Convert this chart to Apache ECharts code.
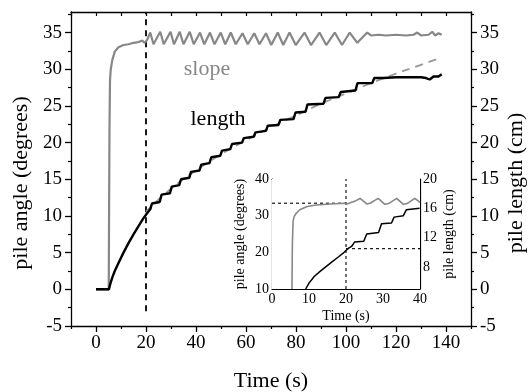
<!DOCTYPE html>
<html>
<head>
<meta charset="utf-8">
<script src="https://cdn.jsdelivr.net/npm/echarts@6/dist/echarts.min.js"></script>
<style>
  html, body { margin: 0; padding: 0; background: #fff; }
  #main { width: 528px; height: 392px; }
</style>
</head>
<body>
<div id="main"></div>
<script>
// main chart data: [time (s), value]
var slopeData = [
  [0, 0], [5.1, 0], [5.25, 12], [5.4, 22], [5.6, 28.5], [5.9, 30], [6.5, 31.2], [7.5, 32.4],
  [9, 33.0], [11, 33.3], [13, 33.4], [15, 33.6], [17, 33.7], [18.5, 33.9], [19.5, 33.6], [20.3, 33.9],
  [21.7, 35.0], [23.0, 33.4], [25.7, 35.1], [27.1, 33.4], [29.8, 35.1], [31.2, 33.4],
  [33.5, 35.1], [35.0, 33.4], [37.5, 35.1], [39.1, 33.4], [41.6, 35.0], [43.3, 33.4],
  [45.6, 35.0], [47.4, 33.4], [49.9, 35.0], [51.7, 33.4], [53.9, 35.0], [55.9, 33.4],
  [58.6, 34.9], [60.7, 33.4], [63.3, 34.9], [65.4, 33.4], [68.0, 34.9], [70.1, 33.3],
  [72.7, 35.0], [74.9, 33.3], [77.4, 35.0], [79.9, 33.3], [83.4, 35.0], [86.0, 33.3],
  [89.4, 35.0], [92.1, 33.3], [95.5, 35.0], [98.4, 33.3], [101.5, 35.0], [104.5, 33.6],
  [108.5, 35.0], [110, 34.6], [113, 34.7], [116, 34.6], [120, 34.7], [124, 34.6], [127, 34.7],
  [128.5, 35.0], [130, 34.6], [133, 34.7], [134.5, 35.1], [135.7, 34.6], [137, 34.9], [138.3, 34.7]
];
var lengthData = [
  [0, 0], [5.2, 0], [5.6, 0.6], [6.5, 1.6], [7.5, 2.5], [9, 3.6], [11, 5.0], [13, 6.3], [15, 7.5],
  [17, 8.6], [19, 9.7], [20.5, 10.4], [21.7, 10.9], [22.4, 11.7], [25.5, 11.9], [26.2, 12.9],
  [29.6, 13.1], [30.3, 14.0], [33.3, 14.2], [34.0, 15.0], [37.3, 15.2], [38.0, 16.0],
  [41.4, 16.2], [42.1, 17.0], [45.4, 17.2], [46.1, 18.0], [49.7, 18.2], [50.4, 18.9],
  [53.7, 19.1], [54.4, 19.8], [58.4, 20.0], [59.1, 20.6], [63.1, 20.8], [63.8, 21.4],
  [68.0, 21.6], [68.7, 22.3], [73.0, 22.4], [73.7, 23.1], [79.0, 23.2], [79.8, 24.1],
  [83.8, 24.2], [84.6, 25.2], [91.0, 25.3], [91.8, 26.1], [97.1, 26.2], [97.9, 26.9],
  [103.8, 27.1], [104.6, 28.1], [110.5, 28.1], [111.3, 28.8], [115, 28.8], [120, 28.9],
  [125, 28.9], [130, 28.9], [132, 28.8], [133.5, 28.6], [135, 29.0], [137, 29.0], [138.3, 29.3]
];
var fitData = [
  [20, 10.6], [30, 13.7], [40, 16.2], [50, 18.4], [60, 20.3], [70, 22.1], [80, 23.7],
  [90, 25.3], [100, 26.7], [110, 28.1], [120, 29.4], [130, 30.6], [138.3, 31.6]
];
var markerLine = [[20, -3], [20, 37.8]];

// inset data
var insetSlope = [
  [5.4, 10], [5.5, 22], [5.7, 28.5], [6.0, 29.8], [6.5, 30.6], [7.5, 31.6], [9.5, 32.5],
  [12, 32.9], [15.9, 33.2], [19.5, 33.4], [20.3, 33.2], [21.3, 33.6], [22.3, 33.9], [23.8, 34.7],
  [25.6, 33.2], [26.5, 33.4], [28.7, 34.7], [30.5, 33.1], [31.5, 33.3], [33.7, 34.7],
  [35.5, 33.1], [36.5, 33.3], [38.6, 34.7], [40, 33.6]
];
var insetLength = [
  [9.1, 5.0], [10, 5.8], [11.4, 6.7], [13, 7.4], [15.7, 8.5], [18, 9.4], [19.5, 10.0],
  [20.5, 10.5], [21.5, 10.8], [22.3, 11.4], [24.8, 11.5], [25.6, 12.5], [28.8, 12.7],
  [29.6, 13.9], [32.3, 14.0], [33.0, 14.8], [35.5, 15.0], [36.3, 15.8], [39.9, 16.0]
];
var insetAngleGuide = [[0, 33.4], [20, 33.4]];
var insetTimeGuide = [[20, 10], [20, 40]];
var insetLengthGuide = [[20, 10.5], [40, 10.5]];

// tick values
var xMajor = [0, 20, 40, 60, 80, 100, 120, 140];
var xMinor = [-10, 10, 30, 50, 70, 90, 110, 130, 150];
var xTop = [-10, 0, 10, 20, 30, 40, 50, 60, 70, 80, 90, 100, 110, 120, 130, 140, 150];
var yMajor = [-5, 0, 5, 10, 15, 20, 25, 30, 35];
var yMinor = [-2.5, 2.5, 7.5, 12.5, 17.5, 22.5, 27.5, 32.5, 37.5];
var insetRightTicks = [8, 12, 16, 20];

var FONT = 'Liberation Serif';
var GRAY = '#878787';

var myChart = echarts.init(document.getElementById('main'));

function tickAxis(opts) {
  return Object.assign({
    type: 'value',
    axisLine: { show: false, onZero: false, lineStyle: { color: '#000', width: 1.3 } },
    axisTick: { show: true, inside: false, length: 3, lineStyle: { color: '#000', width: 1.2 } },
    axisLabel: { show: false },
    splitLine: { show: false }
  }, opts);
}

var option = {
  animation: false,
  backgroundColor: '#fff',
  grid: [
    { left: 71, right: 57, top: 12, bottom: 66 },
    { left: 272, right: 108, top: 179, bottom: 103, show: true, backgroundColor: '#fff', borderWidth: 0, z: 5 }
  ],
  xAxis: [
    tickAxis({ gridIndex: 0, min: -10, max: 150, position: 'bottom',
      axisLine: { show: true, onZero: false, lineStyle: { color: '#000', width: 1.3 } },
      axisTick: { show: true, length: 6, customValues: xMajor, lineStyle: { color: '#000', width: 1.3 } },
      axisLabel: { show: true, customValues: xMajor, color: '#000', fontFamily: FONT, fontSize: 19, margin: 8 } }),
    tickAxis({ gridIndex: 0, min: -10, max: 150, position: 'bottom',
      axisTick: { show: true, length: 3, customValues: xMinor, lineStyle: { color: '#000', width: 1.2 } } }),
    tickAxis({ gridIndex: 0, min: -10, max: 150, position: 'top',
      axisLine: { show: true, onZero: false, lineStyle: { color: '#000', width: 1.3 } },
      axisTick: { show: true, inside: true, length: 4, customValues: xTop, lineStyle: { color: '#000', width: 1.2 } } }),
    tickAxis({ gridIndex: 1, min: 0, max: 40, interval: 10, position: 'bottom',
      axisLine: { show: true, onZero: false, lineStyle: { color: '#000', width: 1.2 } },
      axisTick: { show: true, inside: true, length: 4, lineStyle: { color: '#000', width: 1 } },
      axisLabel: { show: true, color: '#000', fontFamily: FONT, fontSize: 14, margin: 3 },
      name: 'Time (s)', nameLocation: 'middle', nameGap: 20,
      nameTextStyle: { color: '#000', fontFamily: FONT, fontSize: 14 } }),
    tickAxis({ gridIndex: 1, min: 0, max: 40, interval: 10, position: 'top',
      axisLine: { show: true, onZero: false, lineStyle: { color: '#000', width: 1.2 } },
      axisTick: { show: true, inside: true, length: 4, lineStyle: { color: '#000', width: 1 } } })
  ],
  yAxis: [
    tickAxis({ gridIndex: 0, min: -5, max: 37.8, position: 'left',
      axisLine: { show: true, onZero: false, lineStyle: { color: '#000', width: 1.3 } },
      axisTick: { show: true, length: 6, customValues: yMajor, lineStyle: { color: '#000', width: 1.3 } },
      axisLabel: { show: true, customValues: yMajor, color: '#000', fontFamily: FONT, fontSize: 19, margin: 9 } }),
    tickAxis({ gridIndex: 0, min: -5, max: 37.8, position: 'left',
      axisTick: { show: true, length: 3, customValues: yMinor, lineStyle: { color: '#000', width: 1.2 } } }),
    tickAxis({ gridIndex: 0, min: -5, max: 37.8, position: 'right',
      axisLine: { show: true, onZero: false, lineStyle: { color: '#000', width: 1.3 } },
      axisTick: { show: true, length: 6, customValues: yMajor, lineStyle: { color: '#000', width: 1.3 } },
      axisLabel: { show: true, customValues: yMajor, color: '#000', fontFamily: FONT, fontSize: 19, margin: 9 } }),
    tickAxis({ gridIndex: 0, min: -5, max: 37.8, position: 'right',
      axisTick: { show: true, length: 3, customValues: yMinor, lineStyle: { color: '#000', width: 1.2 } } }),
    tickAxis({ gridIndex: 1, min: 10, max: 40, interval: 10, position: 'left',
      axisLine: { show: true, onZero: false, lineStyle: { color: '#000', width: 1.2 } },
      axisTick: { show: true, inside: true, length: 4, lineStyle: { color: '#000', width: 1 } },
      axisLabel: { show: true, color: '#000', fontFamily: FONT, fontSize: 14, margin: 3 } }),
    tickAxis({ gridIndex: 1, min: 5, max: 20, position: 'right',
      axisLine: { show: true, onZero: false, lineStyle: { color: '#000', width: 1.2 } },
      axisTick: { show: true, inside: true, length: 4, customValues: insetRightTicks, lineStyle: { color: '#000', width: 1 } },
      axisLabel: { show: true, customValues: insetRightTicks, color: '#000', fontFamily: FONT, fontSize: 14, margin: 3 } })
  ],
  series: [
    { type: 'line', xAxisIndex: 0, yAxisIndex: 0, data: markerLine, symbol: 'none', z: 2,
      lineStyle: { color: '#000', width: 1.8, type: [6, 5] } },
    { type: 'line', xAxisIndex: 0, yAxisIndex: 0, data: fitData, symbol: 'none', smooth: true, z: 2,
      lineStyle: { color: '#999', width: 1.8, type: [8, 6] } },
    { type: 'line', xAxisIndex: 0, yAxisIndex: 0, data: slopeData, symbol: 'none', z: 3,
      lineStyle: { color: GRAY, width: 2.2 } },
    { type: 'line', xAxisIndex: 0, yAxisIndex: 0, data: lengthData, symbol: 'none', z: 3,
      lineStyle: { color: '#000', width: 2.4 } },
    { type: 'line', xAxisIndex: 3, yAxisIndex: 4, data: insetAngleGuide, symbol: 'none', z: 6,
      lineStyle: { color: '#000', width: 1.1, type: [3, 3] } },
    { type: 'line', xAxisIndex: 3, yAxisIndex: 4, data: insetTimeGuide, symbol: 'none', z: 6,
      lineStyle: { color: '#000', width: 1.1, type: [3, 3] } },
    { type: 'line', xAxisIndex: 3, yAxisIndex: 5, data: insetLengthGuide, symbol: 'none', z: 6,
      lineStyle: { color: '#000', width: 1.1, type: [3, 3] } },
    { type: 'line', xAxisIndex: 3, yAxisIndex: 4, data: insetSlope, symbol: 'none', z: 7,
      lineStyle: { color: GRAY, width: 1.6 } },
    { type: 'line', xAxisIndex: 3, yAxisIndex: 5, data: insetLength, symbol: 'none', z: 7,
      lineStyle: { color: '#000', width: 1.5 } }
  ],
  graphic: [
    { type: 'text', x: 21, y: 183, rotation: Math.PI / 2, z: 10,
      style: { text: 'pile angle (degrees)', font: '22px "Liberation Serif"', fill: '#000',
        align: 'center', verticalAlign: 'middle', textAlign: 'center', textVerticalAlign: 'middle' } },
    { type: 'text', x: 516, y: 183, rotation: Math.PI / 2, z: 10,
      style: { text: 'pile length (cm)', font: '22px "Liberation Serif"', fill: '#000',
        align: 'center', verticalAlign: 'middle', textAlign: 'center', textVerticalAlign: 'middle' } },
    { type: 'text', x: 271, y: 381, z: 10,
      style: { text: 'Time (s)', font: '22px "Liberation Serif"', fill: '#000',
        align: 'center', verticalAlign: 'middle', textAlign: 'center', textVerticalAlign: 'middle' } },
    { type: 'text', x: 207, y: 69, z: 10,
      style: { text: 'slope', font: '22px "Liberation Serif"', fill: GRAY,
        align: 'center', verticalAlign: 'middle', textAlign: 'center', textVerticalAlign: 'middle' } },
    { type: 'text', x: 218, y: 119, z: 10,
      style: { text: 'length', font: '22px "Liberation Serif"', fill: '#000',
        align: 'center', verticalAlign: 'middle', textAlign: 'center', textVerticalAlign: 'middle' } },
    { type: 'text', x: 240, y: 234, rotation: Math.PI / 2, z: 10,
      style: { text: 'pile angle (degrees)', font: '14px "Liberation Serif"', fill: '#000',
        align: 'center', verticalAlign: 'middle', textAlign: 'center', textVerticalAlign: 'middle' } },
    { type: 'text', x: 449, y: 234, rotation: Math.PI / 2, z: 10,
      style: { text: 'pile length (cm)', font: '14px "Liberation Serif"', fill: '#000',
        align: 'center', verticalAlign: 'middle', textAlign: 'center', textVerticalAlign: 'middle' } }
  ]
};

myChart.setOption(option);
</script>
</body>
</html>
